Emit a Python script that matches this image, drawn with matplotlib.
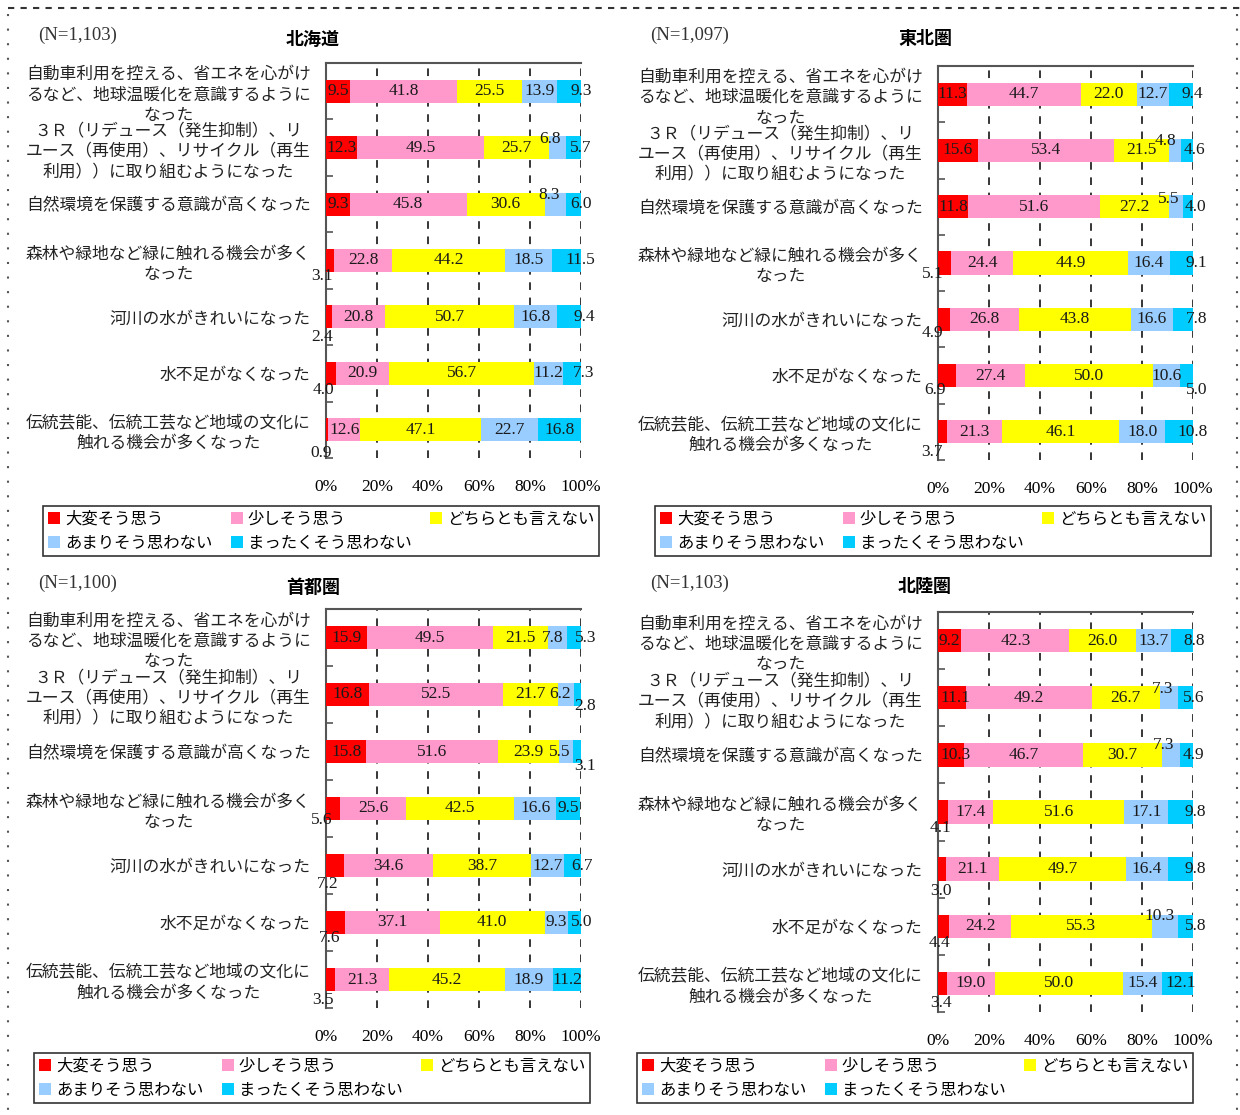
import numpy as np
import matplotlib.pyplot as plt
from matplotlib.lines import Line2D
from matplotlib.patches import Patch

plt.rcParams['font.family'] = ['Noto Sans CJK JP', 'DejaVu Sans']

items = [
    '自動車利用を控える、省エネを心がけ\nるなど、地球温暖化を意識するように\nなった',
    '３Ｒ（リデュース（発生抑制）、リ\nユース（再使用）、リサイクル（再生\n利用））に取り組むようになった',
    '自然環境を保護する意識が高くなった',
    '森林や緑地など緑に触れる機会が多く\nなった',
    '河川の水がきれいになった',
    '水不足がなくなった',
    '伝統芸能、伝統工芸など地域の文化に\n触れる機会が多くなった',
]
answers = ['大変そう思う', '少しそう思う', 'どちらとも言えない', 'あまりそう思わない', 'まったくそう思わない']
colors = ['#FF0000', '#FF99CC', '#FFFF00', '#99CCFF', '#00CCFF']

regions = ['北海道', '東北圏', '首都圏', '北陸圏']
n_text = ['(N=1,103)', '(N=1,097)', '(N=1,100)', '(N=1,103)']

hokkaido = [[9.5, 41.8, 25.5, 13.9, 9.3],
            [12.3, 49.5, 25.7, 6.8, 5.7],
            [9.3, 45.8, 30.6, 8.3, 6.0],
            [3.1, 22.8, 44.2, 18.5, 11.5],
            [2.4, 20.8, 50.7, 16.8, 9.4],
            [4.0, 20.9, 56.7, 11.2, 7.3],
            [0.9, 12.6, 47.1, 22.7, 16.8]]
tohoku = [[11.3, 44.7, 22.0, 12.7, 9.4],
          [15.6, 53.4, 21.5, 4.8, 4.6],
          [11.8, 51.6, 27.2, 5.5, 4.0],
          [5.1, 24.4, 44.9, 16.4, 9.1],
          [4.9, 26.8, 43.8, 16.6, 7.8],
          [6.9, 27.4, 50.0, 10.6, 5.0],
          [3.7, 21.3, 46.1, 18.0, 10.8]]
shutoken = [[15.9, 49.5, 21.5, 7.8, 5.3],
            [16.8, 52.5, 21.7, 6.2, 2.8],
            [15.8, 51.6, 23.9, 5.5, 3.1],
            [5.6, 25.6, 42.5, 16.6, 9.5],
            [7.2, 34.6, 38.7, 12.7, 6.7],
            [7.6, 37.1, 41.0, 9.3, 5.0],
            [3.5, 21.3, 45.2, 18.9, 11.2]]
hokuriku = [[9.2, 42.3, 26.0, 13.7, 8.8],
            [11.1, 49.2, 26.7, 7.3, 5.6],
            [10.3, 46.7, 30.7, 7.3, 4.9],
            [4.1, 17.4, 51.6, 17.1, 9.8],
            [3.0, 21.1, 49.7, 16.4, 9.8],
            [4.4, 24.2, 55.3, 10.3, 5.8],
            [3.4, 19.0, 50.0, 15.4, 12.1]]

ticks = [0, 20, 40, 60, 80, 100]
tick_labels = ['0%', '20%', '40%', '60%', '80%', '100%']

# label nudges in pixels: (row, segment) -> (right, down)
nudge_hokkaido = {(0, 4): (12, 0), (1, 3): (-8, -9), (1, 4): (7, 0), (2, 3): (-6, -9),
                  (2, 4): (8, 0), (3, 0): (-8, 16), (3, 4): (14, 0), (4, 0): (-7, 20),
                  (4, 4): (15, 0), (5, 0): (-8, 17), (5, 4): (12, 0), (6, 0): (-6, 23)}
nudge_tohoku = {(0, 4): (11, 0), (1, 3): (-9, -9), (1, 4): (8, 0), (2, 3): (-7, -8),
                (2, 4): (7, 0), (3, 0): (-12, 11), (3, 4): (15, 0), (4, 0): (-12, 14),
                (4, 4): (14, 0), (5, 0): (-12, 14), (5, 4): (10, 14), (6, 0): (-11, 20),
                (6, 4): (14, 0)}
nudge_shutoken = {(0, 3): (-5, 0), (0, 4): (11, 0), (1, 3): (-6, 0), (1, 4): (8, 12),
                  (2, 3): (-6, 0), (2, 4): (8, 15), (3, 0): (-11, 11), (4, 0): (-7, 19),
                  (4, 4): (10, 0), (5, 0): (-6, 16), (5, 4): (7, 0), (6, 0): (-8, 21)}
nudge_hokuriku = {(0, 4): (12, 0), (1, 0): (3, 0), (1, 3): (-7, -9), (1, 4): (8, 0),
                  (2, 0): (4, 0), (2, 3): (-7, -10), (2, 4): (7, 0), (3, 0): (-3, 16),
                  (3, 4): (15, 0), (4, 0): (-1, 22), (4, 4): (15, 0), (5, 0): (-4, 17),
                  (5, 3): (-5, -10), (5, 4): (10, 0), (6, 0): (-1, 20), (6, 4): (3, 0)}

W, H = 1240, 1115
fig = plt.figure(figsize=(W / 100, H / 100), dpi=100)


def fx(px):
    return px / W


def fy(py):
    return 1 - py / H


# pixel layout: plot box (left, top, right, bottom), title, N text, legend box
panels = [
    dict(data=hokkaido, nudge=nudge_hokkaido, box=(326, 63, 581, 458),
         title=(313, 39), n=(38, 35), legend=(43, 506, 599, 556)),
    dict(data=tohoku, nudge=nudge_tohoku, box=(938, 66, 1193, 460),
         title=(925, 39), n=(650, 35), legend=(655, 506, 1211, 558)),
    dict(data=shutoken, nudge=nudge_shutoken, box=(326, 609, 581, 1008),
         title=(313, 587), n=(38, 583), legend=(34, 1053, 590, 1105)),
    dict(data=hokuriku, nudge=nudge_hokuriku, box=(938, 612, 1193, 1012),
         title=(925, 587), n=(650, 583), legend=(637, 1053, 1193, 1105)),
]

order = [0, 3, 1, 4, 2]  # so ncol=3 fills rows like the original

for name, ntxt, p in zip(regions, n_text, panels):
    l, t, r, b = p['box']
    ax = fig.add_axes([fx(l), fy(b), (r - l) / W, (b - t) / H])
    vals = np.array(p['data'])
    y = np.arange(len(items))
    left = np.zeros(len(items))
    for j in range(len(answers)):
        ax.barh(y, vals[:, j], left=left, height=0.41, color=colors[j], zorder=3)
        for i in range(len(items)):
            dx, dy = p['nudge'].get((i, j), (0, 0))
            ax.annotate(f'{vals[i, j]:.1f}', (left[i] + vals[i, j] / 2, y[i]),
                        xytext=(dx * 0.72, -dy * 0.72), textcoords='offset points',
                        ha='center', va='center', fontsize=12.5,
                        family='Liberation Serif', color='#1a1a1a', zorder=5,
                        annotation_clip=False)
        left += vals[:, j]

    ax.set_xlim(0, 100)
    ax.set_ylim(len(items) - 0.5, -0.5)
    ax.set_xticks(ticks)
    ax.set_xticklabels(tick_labels, family='Liberation Serif', fontsize=12.5)
    ax.tick_params(axis='x', length=0, pad=15)
    ax.set_yticks(y)
    ax.set_yticklabels(items, fontsize=12.1, color='#222222')
    for lab in ax.get_yticklabels():
        lab.set_multialignment('center')
        lab.set_linespacing(1.25)
    ax.tick_params(axis='y', which='major', length=0, pad=11)
    ax.set_yticks(np.arange(-0.5, len(items), 1), minor=True)
    ax.tick_params(axis='y', which='minor', direction='in', length=5, width=1.2, color='#555555')
    ax.grid(axis='x', color='black', linestyle=(0, (5, 5)), linewidth=1.1)
    ax.set_axisbelow(True)
    for s in ['right', 'bottom']:
        ax.spines[s].set_visible(False)
    for s in ['left', 'top']:
        ax.spines[s].set_color('#555555')
        ax.spines[s].set_linewidth(1.5)

    fig.text(fx(p['title'][0]), fy(p['title'][1]), name, ha='center', va='center',
             fontsize=13, fontweight='bold')
    fig.text(fx(p['n'][0]), fy(p['n'][1]), ntxt, ha='left', va='center',
             fontsize=13.5, family='Liberation Serif', color='#333333')

    L, T, R, B = p['legend']
    handles = [Patch(facecolor=colors[k], edgecolor='none') for k in order]
    labels = [answers[k] for k in order]
    leg = fig.legend(handles, labels, loc='upper left', ncol=3, mode='expand',
                     bbox_to_anchor=(fx(L), fy(B), (R - L) / W, (B - T) / H),
                     fontsize=11.8, frameon=True, fancybox=False, edgecolor='#333333',
                     framealpha=1, handlelength=0.75, handleheight=0.75,
                     handletextpad=0.3, borderaxespad=0, borderpad=0.3,
                     labelspacing=0.4)
    leg.get_frame().set_linewidth(1.2)

# dashed / dotted frame round the whole figure
fig.add_artist(Line2D([fx(8), fx(1240)], [fy(8), fy(8)], transform=fig.transFigure,
                      color='#333333', linewidth=1.5, linestyle=(0, (3, 3))))
fig.add_artist(Line2D([fx(8), fx(8)], [fy(14), 0], transform=fig.transFigure,
                      color='#555555', linewidth=1.5, linestyle=(0, (1, 6))))
fig.add_artist(Line2D([fx(1237), fx(1237)], [fy(14), 0], transform=fig.transFigure,
                      color='#555555', linewidth=1.5, linestyle=(0, (1, 6))))

fig.savefig('out.png', dpi=100)
